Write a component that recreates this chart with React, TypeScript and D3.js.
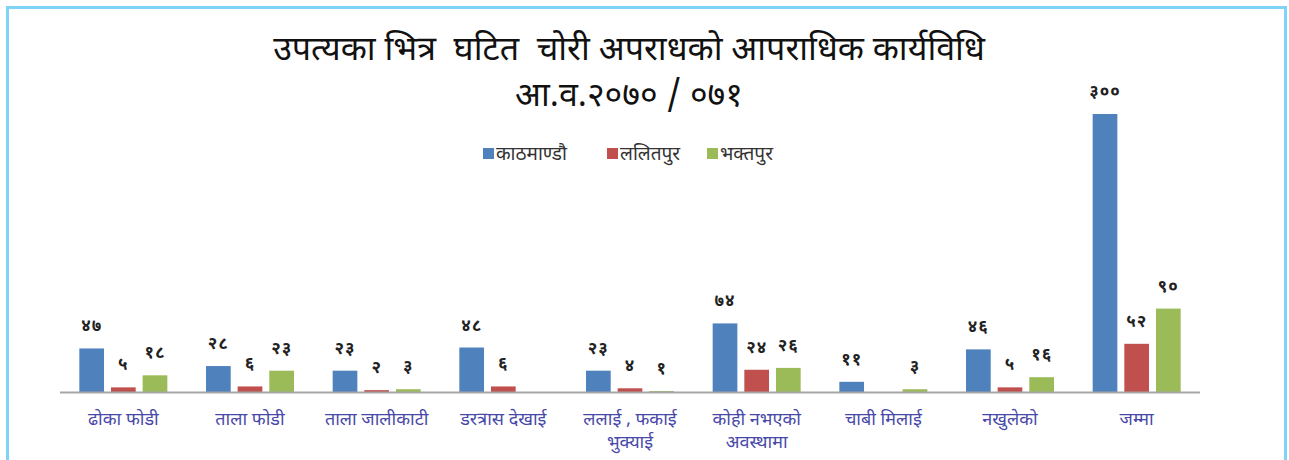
import React from "react"
import * as d3 from "d3"

const categories = [
  ["ढोका फोडी"],
  ["ताला फोडी"],
  ["ताला जालीकाटी"],
  ["डरत्रास देखाई"],
  ["ललाई , फकाई", "भुक्याई"],
  ["कोही नभएको", "अवस्थामा"],
  ["चाबी मिलाई"],
  ["नखुलेको"],
  ["जम्मा"],
]

const seriesNames = ["काठमाण्डौ", "ललितपुर", "भक्तपुर"]
const kathmandu = [47, 28, 23, 48, 23, 74, 11, 46, 300]
const lalitpur = [5, 6, 2, 6, 4, 24, null, 5, 52]
const bhaktapur = [18, 23, 3, null, 1, 26, 3, 16, 90]
const colors = ["#4f81bd", "#c0504d", "#9bbb59"]

const titleLines = ["उपत्यका भित्र  घटित  चोरी अपराधको आपराधिक कार्यविधि", "आ.व.२०७० / ०७१"]

const devDigits = "०१२३४५६७८९"
const toNepali = (n: number) =>
  String(n).replace(/[0-9]/g, (c) => devDigits[+c])

const font = "'Noto Sans Devanagari', 'Noto Sans', sans-serif"

const App = () => {
  const width = 1289
  const height = 460
  const baseline = 392

  const series = [kathmandu, lalitpur, bhaktapur]

  const x = d3
    .scaleBand<number>()
    .domain(d3.range(categories.length))
    .range([60, 1200])

  const inner = d3
    .scaleBand<number>()
    .domain(d3.range(series.length))
    .range([0, 88])
    .paddingInner(0.22)

  const y = d3.scaleLinear().domain([0, 300]).range([baseline, 114])

  const legendX = [483, 607, 707]

  return (
    <svg
      width={width}
      height={height}
      style={{ position: "absolute", left: 0, top: 0, background: "#fff" }}
      fontFamily={font}
    >
      <path
        d={`M7.5,${height} V7.5 H1285.5 V${height}`}
        fill="none"
        stroke="#7fd3f7"
        strokeWidth={3}
      />

      {titleLines.map((t, i) => (
        <text
          key={i}
          x={629}
          y={60 + i * 46}
          textAnchor="middle"
          fontSize={34}
          fill="#111"
          style={{ whiteSpace: "pre" }}
        >
          {t}
        </text>
      ))}

      {seriesNames.map((name, i) => (
        <g key={name} transform={`translate(${legendX[i]},154)`}>
          <rect x={0} y={-6} width={11} height={11} fill={colors[i]} />
          <text x={13} y={6} fontSize={19} fill="#333">
            {name}
          </text>
        </g>
      ))}

      {categories.map((cat, ci) => {
        const x0 = (x(ci) as number) + x.bandwidth() / 2 - 44
        return (
          <g key={ci}>
            {series.map((s, si) => {
              const v = s[ci]
              if (v === null || v === undefined) return null
              const bx = x0 + (inner(si) as number)
              return (
                <g key={si}>
                  <rect
                    x={bx}
                    y={y(v)}
                    width={inner.bandwidth()}
                    height={baseline - y(v)}
                    fill={colors[si]}
                  />
                  <text
                    x={bx + inner.bandwidth() / 2}
                    y={y(v) - 17}
                    textAnchor="middle"
                    fontSize={17}
                    fontWeight="bold"
                    letterSpacing={1}
                    fill="#222"
                  >
                    {toNepali(v)}
                  </text>
                </g>
              )
            })}
            {cat.map((line, li) => (
              <text
                key={li}
                x={(x(ci) as number) + x.bandwidth() / 2}
                y={425 + li * 23}
                textAnchor="middle"
                fontSize={18}
                fill="#4848a8"
              >
                {line}
              </text>
            ))}
          </g>
        )
      })}

      <line
        x1={60}
        x2={1200}
        y1={baseline + 0.5}
        y2={baseline + 0.5}
        stroke="#a6a6a6"
        strokeWidth={2}
      />
    </svg>
  )
}

export default App
